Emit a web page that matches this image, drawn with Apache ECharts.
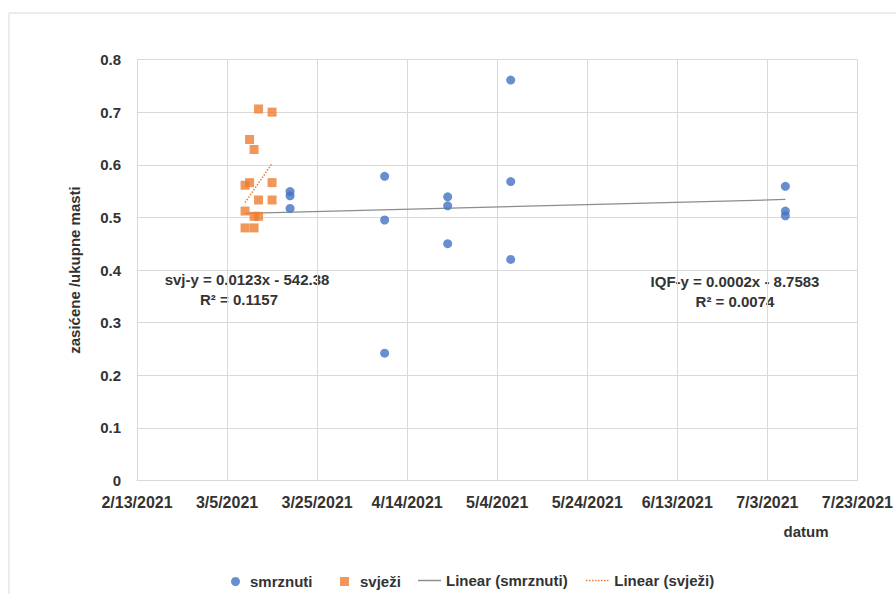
<!DOCTYPE html>
<html>
<head>
<meta charset="utf-8">
<script src="https://cdn.jsdelivr.net/npm/echarts@6/dist/echarts.min.js"></script>
<style>
html,body{margin:0;padding:0;background:#fff;}
#chart{width:896px;height:594px;}
</style>
</head>
<body>
<div id="chart"></div>
<script>
// ---- data ----
const smrznutiDates = ['3/19/2021','3/19/2021','3/19/2021','4/9/2021','4/9/2021','4/9/2021','4/23/2021','4/23/2021','4/23/2021','5/7/2021','5/7/2021','5/7/2021','7/7/2021','7/7/2021','7/7/2021'];
const smrznutiValues = [0.549,0.541,0.517,0.578,0.495,0.242,0.539,0.522,0.450,0.761,0.568,0.420,0.559,0.512,0.503];

const svjeziDates = ['3/12/2021','3/15/2021','3/10/2021','3/11/2021','3/9/2021','3/10/2021','3/15/2021','3/12/2021','3/15/2021','3/9/2021','3/11/2021','3/12/2021','3/9/2021','3/11/2021'];
const svjeziValues = [0.706,0.700,0.648,0.629,0.561,0.566,0.566,0.533,0.533,0.512,0.502,0.502,0.480,0.480];

const trendSmrznutiDates = ['3/9/2021','7/7/2021'];
const trendSmrznutiValues = [0.5075,0.534];
const trendSvjeziDates = ['3/9/2021','3/15/2021'];
const trendSvjeziValues = [0.528,0.6025];

const xMinDate = '2/13/2021';
const xMaxDate = '7/23/2021';
const xStepDays = 20;
const yMin = 0, yMax = 0.8, yStep = 0.1;

const seriesNames = ['smrznuti','svježi','Linear (smrznuti)','Linear (svježi)'];
const eqSvjezi = ['svj-y = 0.0123x - 542.38','R² = 0.1157'];
const eqSmrznuti = ['IQF-y = 0.0002x - 8.7583','R² = 0.0074'];
const yAxisTitle = 'zasićene /ukupne masti';
const xAxisTitle = 'datum';

// ---- helpers ----
const EPOCH = Date.UTC(1899,11,30);
function serial(s){ const p=s.split('/').map(Number); return Math.round((Date.UTC(p[2],p[0]-1,p[1])-EPOCH)/86400000); }
function fmtDate(v){ const d=new Date(EPOCH+Math.round(v)*86400000); return (d.getUTCMonth()+1)+'/'+d.getUTCDate()+'/'+d.getUTCFullYear(); }
function zip(ds,vs){ return ds.map((d,i)=>[serial(d),vs[i]]); }

const FONT = '"Liberation Sans", Arial, sans-serif';
const TXT = '#333333';
const GRID = '#d9d9d9';

// legend icons for trendlines
const solidIcon = 'path://M0,0h24v1.5h-24z';
let dots = '';
for (let i = 0; i < 8; i++) dots += 'M' + (i*3) + ',0h1.5v1.5h-1.5z';
const dottedIcon = 'path://' + dots;

const chart = echarts.init(document.getElementById('chart'), null, {renderer:'svg'});
const legendBase = {orient:'horizontal', top:569, textStyle:{fontFamily:FONT,fontWeight:'bold',fontSize:15,color:TXT}, selectedMode:false};
chart.setOption({
  animation:false,
  backgroundColor:'#ffffff',
  grid:{left:137,right:36,top:59.5,bottom:113.5,containLabel:false},
  xAxis:{
    type:'value', min:serial(xMinDate), max:serial(xMaxDate), interval:xStepDays,
    axisLine:{show:true,lineStyle:{color:GRID,width:1}},
    axisTick:{show:false},
    splitLine:{show:true,lineStyle:{color:GRID,width:1}},
    axisLabel:{formatter:fmtDate,margin:14,fontFamily:FONT,fontWeight:'bold',fontSize:16,color:TXT,showMaxLabel:true,showMinLabel:true}
  },
  yAxis:{
    type:'value', min:yMin, max:yMax, interval:yStep,
    name:yAxisTitle, nameLocation:'middle', nameGap:55, nameRotate:90,
    nameTextStyle:{fontFamily:FONT,fontWeight:'bold',fontSize:15,color:TXT},
    axisLine:{show:false}, axisTick:{show:false},
    splitLine:{show:true,lineStyle:{color:GRID,width:1}},
    axisLabel:{margin:16,fontFamily:FONT,fontWeight:'bold',fontSize:15,color:TXT,formatter:v=>v===0?'0':v.toFixed(1)}
  },
  legend:[
    Object.assign({},legendBase,{data:[{name:seriesNames[0],icon:'circle'}],left:226,itemWidth:9,itemHeight:9,textStyle:Object.assign({},legendBase.textStyle,{padding:[0,0,0,5]})}),
    Object.assign({},legendBase,{data:[{name:seriesNames[1],icon:'rect'}],left:335,itemWidth:9,itemHeight:9,textStyle:Object.assign({},legendBase.textStyle,{padding:[0,0,0,6]})}),
    Object.assign({},legendBase,{data:[{name:seriesNames[2],icon:solidIcon,itemStyle:{color:'#8c8c8c'}}],left:413,top:568,itemWidth:23,itemHeight:1.5}),
    Object.assign({},legendBase,{data:[{name:seriesNames[3],icon:dottedIcon,itemStyle:{color:'#ED7D31'}}],left:581,top:568,itemWidth:24,itemHeight:1.5})
  ],
  graphic:[
    {type:'rect',shape:{x:9,y:13,width:900,height:600},style:{fill:'none',stroke:GRID,lineWidth:1},silent:true},
    {type:'text',x:247,y:279,style:{text:eqSvjezi[0],fill:TXT,font:'bold 15px '+FONT,textAlign:'center',textVerticalAlign:'middle'}},
    {type:'text',x:239,y:299,style:{text:eqSvjezi[1],fill:TXT,font:'bold 15px '+FONT,textAlign:'center',textVerticalAlign:'middle'}},
    {type:'text',x:735,y:281,style:{text:eqSmrznuti[0],fill:TXT,font:'bold 15px '+FONT,textAlign:'center',textVerticalAlign:'middle'}},
    {type:'text',x:735,y:301,style:{text:eqSmrznuti[1],fill:TXT,font:'bold 15px '+FONT,textAlign:'center',textVerticalAlign:'middle'}},
    {type:'text',x:806,y:531,style:{text:xAxisTitle,fill:TXT,font:'bold 15px '+FONT,textAlign:'center',textVerticalAlign:'middle'}}
  ],
  series:[
    {name:seriesNames[2],type:'line',data:zip(trendSmrznutiDates,trendSmrznutiValues),symbol:'none',showSymbol:false,
     lineStyle:{color:'#8c8c8c',width:1.25},itemStyle:{color:'#8c8c8c'},z:1},
    {name:seriesNames[3],type:'line',data:zip(trendSvjeziDates,trendSvjeziValues),symbol:'none',showSymbol:false,
     lineStyle:{color:'#ED7D31',width:1.5,type:'dotted'},itemStyle:{color:'#ED7D31'},z:1},
    {name:seriesNames[0],type:'scatter',data:zip(smrznutiDates,smrznutiValues),symbol:'circle',symbolSize:9,
     itemStyle:{color:'#4472C4'},z:3},
    {name:seriesNames[1],type:'scatter',data:zip(svjeziDates,svjeziValues),symbol:'rect',symbolSize:9,
     itemStyle:{color:'#ED7D31'},z:4}
  ]
});
</script>
</body>
</html>
